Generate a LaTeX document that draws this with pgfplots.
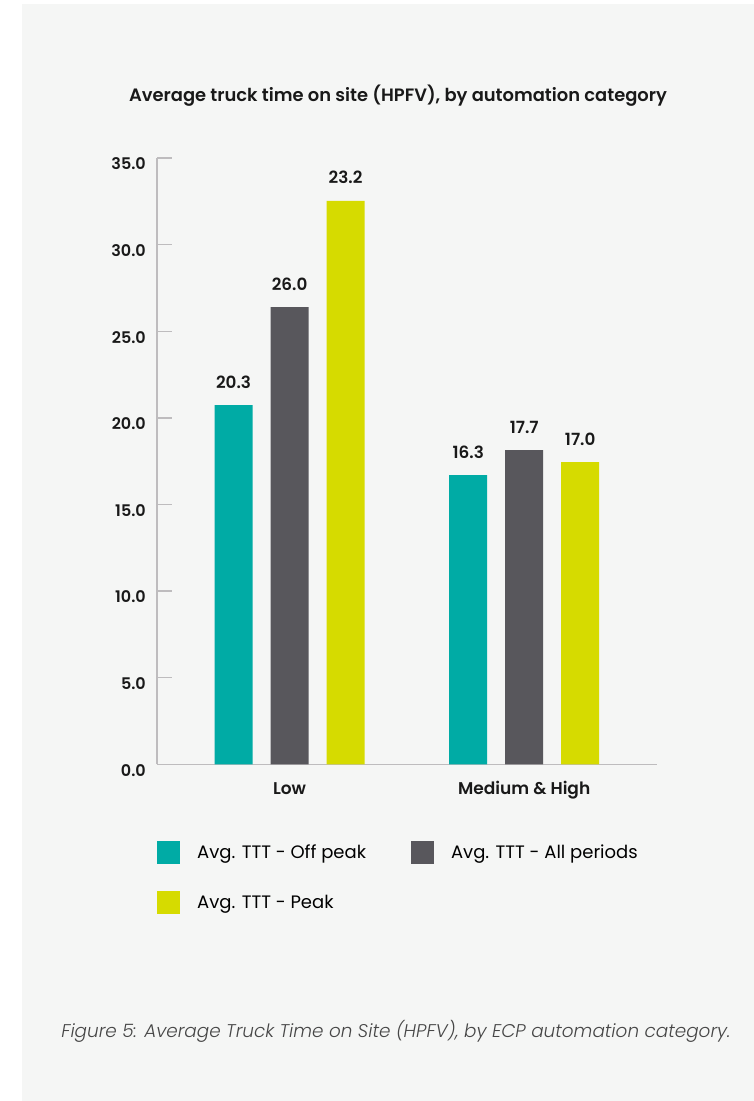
\documentclass[border=0pt]{standalone}
\usepackage{pgfplots}
\pgfplotsset{compat=1.18}
\usepackage{pgfplotstable}
\usepackage{fontspec}
\setmainfont{Poppins}[BoldFont={Poppins SemiBold}, ItalicFont={Poppins Light Italic}]

\definecolor{bgc}{RGB}{245,246,245}
\definecolor{tealc}{RGB}{0,171,165}
\definecolor{grayc}{RGB}{88,87,92}
\definecolor{yelc}{RGB}{214,219,0}
\definecolor{axc}{RGB}{190,188,190}
\definecolor{txt}{RGB}{25,25,25}
\definecolor{capc}{RGB}{70,70,70}

% bar heights as drawn, labels as printed
\pgfplotstableread{
x y lab
0 20.74 20.3
1 16.70 16.3
}\offpeak
\pgfplotstableread{
x y lab
0 26.40 26.0
1 18.14 17.7
}\allper
\pgfplotstableread{
x y lab
0 32.53 23.2
1 17.45 17.0
}\peak

\begin{document}
\begin{tikzpicture}[x=1bp,y=1bp]
\fill[white] (0,0) rectangle (754,1101);
\fill[bgc] (22,0) rectangle (754,1097);

\node[font=\bfseries\fontsize{17.9bp}{21bp}\selectfont, text=txt] at (398,1005)
  {Average truck time on site (HPFV), by automation category};

\begin{axis}[
  at={(157bp,336.7bp)}, anchor=south west,
  scale only axis, width=500bp, height=606.2bp,
  xmin=-0.565, xmax=1.566, ymin=0, ymax=35,
  axis x line=bottom, axis y line=left,
  axis line style={-, draw=axc, line width=1.3bp},
  ybar=18bp, bar width=38bp,
  xtick={0,1}, xticklabels={Low, Medium \& High},
  major x tick style={draw=none},
  extra x ticks={1.566}, extra x tick labels={},
  extra x tick style={major tick length=15bp, tick style={draw=axc, line width=1.3bp}},
  ytick={0,5,...,35},
  major tick length=15bp,
  tick style={draw=axc, line width=1.3bp},
  tick align=inside,
  /pgf/number format/assume math mode=true,
  /pgf/number format/.cd, fixed, fixed zerofill, precision=1, /pgfplots/.cd,
  yticklabel style={font=\bfseries\fontsize{16bp}{19bp}\selectfont, text=txt,
    anchor=east, inner sep=0pt, xshift=-11bp, yshift=-6bp},
  xticklabel style={font=\bfseries\fontsize{17bp}{20bp}\selectfont, text=txt,
    anchor=base, inner sep=0pt, yshift=-30bp},
  point meta=explicit symbolic,
  nodes near coords,
  nodes near coords style={font=\bfseries\fontsize{16.8bp}{20bp}\selectfont, text=txt,
    anchor=base, inner sep=0pt, yshift=17bp},
  clip=false,
  legend columns=2,
  legend style={at={(0,-0.1265)}, anchor=north west, draw=none, fill=none,
    inner sep=0pt, row sep=27bp,
    font=\fontsize{18bp}{21bp}\selectfont,
    cells={anchor=west},
    /tikz/every odd column/.append style={column sep=15bp},
    /tikz/every even column/.append style={column sep=43bp}},
  legend image code/.code={\fill[#1] (0bp,-11.5bp) rectangle (23bp,11.5bp);},
]
\addplot[fill=tealc, draw=none] table[x=x, y=y, meta=lab] {\offpeak};
\addlegendentry{Avg. TTT - Off peak}
\addplot[fill=grayc, draw=none] table[x=x, y=y, meta=lab] {\allper};
\addlegendentry{Avg. TTT - All periods}
\addplot[fill=yelc, draw=none] table[x=x, y=y, meta=lab] {\peak};
\addlegendentry{Avg. TTT - Peak}
\end{axis}

\node[font=\itshape\fontsize{18.4bp}{21bp}\selectfont, text=capc] at (396,70)
  {Figure 5: Average Truck Time on Site (HPFV), by ECP automation category.};
\end{tikzpicture}
\end{document}
